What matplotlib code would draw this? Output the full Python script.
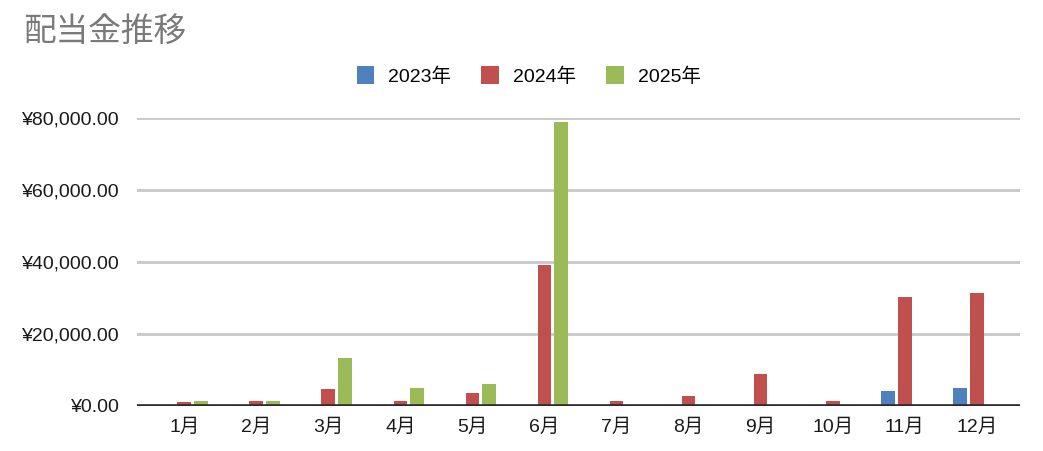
import matplotlib
matplotlib.use("Agg")
import matplotlib.pyplot as plt
import numpy as np
from matplotlib.ticker import FuncFormatter

plt.rcParams['font.family'] = ['Liberation Sans', 'Noto Sans CJK JP', 'DejaVu Sans']

months = ["1月", "2月", "3月", "4月", "5月", "6月", "7月", "8月", "9月", "10月", "11月", "12月"]
series_names = ["2023年", "2024年", "2025年"]
v2023 = [0, 0, 0, 0, 0, 0, 0, 0, 0, 0, 4200, 5100]
v2024 = [1000, 1500, 4600, 1500, 3700, 39200, 1500, 2800, 8800, 1500, 30300, 31400]
v2025 = [1500, 1500, 13400, 5100, 6000, 78900, 0, 0, 0, 0, 0, 0]
yticks = [0, 20000, 40000, 60000, 80000]

colors = ["#4F81BD", "#C0504D", "#9BBB59"]

fig = plt.figure(figsize=(10.43, 4.51), dpi=100)
ax = fig.add_axes([0.131, 0.0998, 0.847, 0.6385])

x = np.arange(len(months))
w = 0.19
offs = [-0.23, 0.0, 0.23]
for vals, off, c, name in zip([v2023, v2024, v2025], offs, colors, series_names):
    ax.bar(x + off, vals, width=w, color=c, label=name, zorder=3)

ax.set_xlim(-0.66, 11.6)
ax.set_ylim(0, 80000)
ax.set_yticks(yticks)
ax.yaxis.set_major_formatter(FuncFormatter(lambda v, p: "¥{:,.2f}".format(v)))
ax.grid(axis='y', color='#c8c8c8', lw=2.0, zorder=0)
ax.axhline(0, color='#2a2a2a', lw=2.6, zorder=4)
for s in ax.spines.values():
    s.set_visible(False)
ax.tick_params(axis='both', length=0, labelsize=14, colors='#1a1a1a')
ax.tick_params(axis='y', pad=12)
ax.tick_params(axis='x', pad=9)
ax.set_xticks(x)
ax.set_xticklabels(months)

fig.text(0.022, 0.93, "配当金推移", fontsize=23.5, color='#7a7a7a', va='center', ha='left',
         family=['Noto Sans CJK JP', 'DejaVu Sans'])

leg = fig.legend(loc='center', bbox_to_anchor=(0.507, 0.832), ncol=3, frameon=False,
                 fontsize=14, handlelength=0.9, handleheight=1.05, columnspacing=1.55,
                 handletextpad=0.72)

fig.savefig("out.png", dpi=100)
